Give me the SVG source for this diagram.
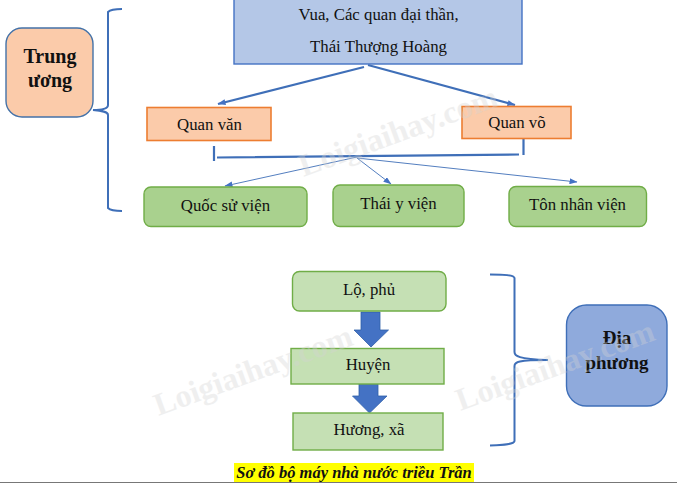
<svg xmlns="http://www.w3.org/2000/svg" width="677" height="483" viewBox="0 0 677 483">
<style>
text{font-family:"Liberation Serif","Times New Roman",serif;fill:#111;text-anchor:middle}
.t{font-size:16.800px}
.b{font-size:20px;font-weight:bold}
.wm{font-size:32px;font-weight:bold;fill:#d4d4d4;opacity:.35}
.or{fill:#fbcbaa;stroke:#ed7d31;stroke-width:1.6}
.gr{fill:#a9d18e;stroke:#70ad47;stroke-width:1.4}
.lg{fill:#c5e0b4;stroke:#70ad47;stroke-width:1.4}
.c{fill:none;stroke:#3f6fb8;stroke-linecap:butt}
.fa{fill:#4472c4;stroke:#2f5fa8;stroke-width:.8}
</style>
<defs>
<marker id="a" markerWidth="8" markerHeight="6" refX="7.500" refY="3" orient="auto" markerUnits="userSpaceOnUse"><path d="M0 0L8 3L0 6z" fill="#4472c4"/></marker>
</defs>
<rect width="677" height="483" fill="#fff"/>
<g id="connectors">
<path class="c" stroke-width="2.200" d="M364 67L218 104" marker-end="url(#a)"/>
<path class="c" stroke-width="2.200" d="M368 65L515 105" marker-end="url(#a)"/>
<path class="c" stroke-width="2.200" d="M214 146V161M217 157.500L519 154.500M523.500 139V155"/>
<path class="c" stroke-width=".9" d="M357 157L225 186" marker-end="url(#a)"/>
<path class="c" stroke-width=".9" d="M357 158L391 184" marker-end="url(#a)"/>
<path class="c" stroke-width=".9" d="M357 158L577 182" marker-end="url(#a)"/>
<path class="c" stroke-width="2" d="M122 9C114 9 110 10 108 12V105C108 108 104 110 93 110C104 111 108 112 108 115V208C110 210 114 211 122 211"/>
<path class="c" stroke-width="2" d="M490 274.500C505 274.500 514 275 514.500 278V352C514.500 356 518 359 548 360C518 360 514.500 362 514.500 366V441C514 444 505 445 490 445.500"/>
<path class="fa" d="M361 312H380V330H388.500L371 347L354 330H361z"/>
<path class="fa" d="M359 383H378V396H387L369.500 413L352.500 396H359z"/>
</g>
<g id="node-vua">
<rect x="234" y="-2" width="288" height="66" fill="#b4c7e7" stroke="#4472c4" stroke-width="1.400"/>
<text class="t" x="378.500" y="20">Vua, Các quan đại thần,</text>
<text class="t" x="378.500" y="52">Thái Thượng Hoàng</text>
</g>
<g id="node-trung-uong">
<rect x="6" y="28" width="87" height="89" rx="16" fill="#fbcbaa" stroke="#4472a8" stroke-width="1.400"/>
<text class="b" x="50" y="63">Trung</text>
<text class="b" x="50" y="87">ương</text>
</g>
<g id="node-quan-van">
<rect class="or" x="147" y="107.500" width="124" height="33"/>
<text class="t" x="209.500" y="130">Quan văn</text>
</g>
<g id="node-quan-vo">
<rect class="or" x="462" y="106.500" width="109" height="32"/>
<text class="t" x="517" y="128">Quan võ</text>
</g>
<g id="node-quoc-su">
<rect class="gr" x="144" y="187" width="163" height="39.500" rx="7"/>
<text class="t" x="225.500" y="211">Quốc sử viện</text>
</g>
<g id="node-thai-y">
<rect class="gr" x="333" y="185" width="131" height="41.500" rx="7"/>
<text class="t" x="398.500" y="209">Thái y viện</text>
</g>
<g id="node-ton-nhan">
<rect class="gr" x="509" y="186.500" width="137.500" height="40" rx="7"/>
<text class="t" x="577.500" y="210">Tôn nhân viện</text>
</g>
<g id="node-lo-phu">
<rect class="lg" x="292.500" y="271.500" width="153.500" height="39.500" rx="7"/>
<text class="t" x="369" y="295">Lộ, phủ</text>
</g>
<g id="node-huyen">
<rect class="lg" x="291" y="348.500" width="153" height="35.500"/>
<text class="t" x="368" y="370">Huyện</text>
</g>
<g id="node-huong-xa">
<rect class="lg" x="293" y="413" width="150" height="37"/>
<text class="t" x="369" y="435">Hương, xã</text>
</g>
<g id="node-dia-phuong">
<rect x="566.500" y="305" width="100.500" height="101" rx="20" fill="#8faadc" stroke="#3f6fb8" stroke-width="1.400"/>
<text class="b" x="617" y="344" style="font-size:19px">Địa</text>
<text class="b" x="617" y="369" style="font-size:19px">phương</text>
</g>
<g id="caption">
<rect x="234" y="463" width="240" height="20" fill="#ffff00"/>
<text x="354" y="478" style="font-size:16.500px;font-weight:bold;font-style:italic">Sơ đồ bộ máy nhà nước triều Trần</text>
</g>
<rect x="0" y="482" width="677" height="1" fill="#777"/>
<g id="watermarks">
<text class="wm" x="398" y="142" transform="rotate(-20 398 131)">Loigiaihay.com</text>
<text class="wm" x="253" y="381" transform="rotate(-20 253 370)">Loigiaihay.com</text>
<text class="wm" x="555" y="376" transform="rotate(-20 555 365)">Loigiaihay.com</text>
</g>
</svg>
